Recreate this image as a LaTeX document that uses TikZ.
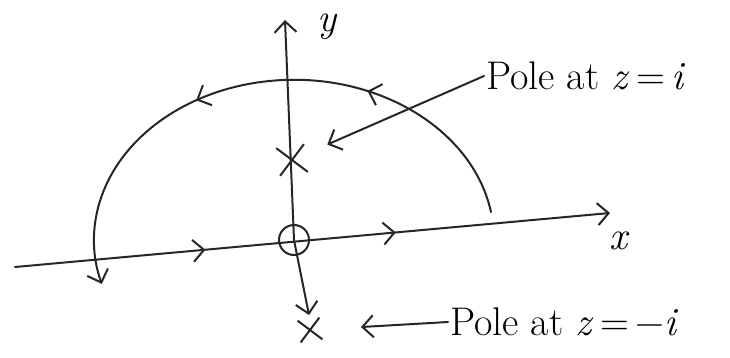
\documentclass[tikz,border=0pt]{standalone}
\usepackage{fontspec}
\usetikzlibrary{arrows.meta,shapes.misc,decorations.markings}
\begin{document}
\begin{tikzpicture}[x=1pt,y=1pt,
  line/.style={line width=2pt, black!85, line cap=round},
  tip/.style={-{Straight Barb[length=11pt,width=22pt]}},
  pole/.style={cross out, draw, black!85, line width=2pt, inner sep=0pt},
  lbl/.style={font=\fontsize{40}{42}\selectfont, inner sep=2pt}]
\useasboundingbox (0,0) rectangle (730,357);
% axes
\coordinate (L) at (15,90);
\coordinate (R) at (610,144);
\coordinate (T) at (285,337);
\coordinate (B) at (309,42);
\coordinate (O) at (294,117);
\draw[line, tip, postaction={decorate}, decoration={markings,
   mark=at position 0.32 with {\arrow{Straight Barb[length=11pt,width=22pt]}},
   mark=at position 0.64 with {\arrow{Straight Barb[length=11pt,width=22pt]}}}]
  (L) -- (R);
\draw[line, tip] (O) -- (T);
\draw[line, tip] (O) -- (B);
% small circle at origin
\node[circle, draw, line, minimum size=30pt] (origin) at (O) {};
% semicircular contour
\coordinate (A0) at (491,145);
\draw[line, tip, postaction={decorate}, decoration={markings,
   mark=at position 0.31 with {\arrow{Straight Barb[length=11pt,width=22pt]}},
   mark=at position 0.61 with {\arrow{Straight Barb[length=11pt,width=22pt]}}}]
  (A0) arc[start angle=10, end angle=196, x radius=200, y radius=160];
% poles
\node[pole, minimum size=26pt, rotate=8] (p1) at (292,197) {};
\node[pole, minimum size=20pt, rotate=8] (p2) at (310,27) {};
% labels
\node[lbl] (ylab) at (328,330) {\textit{y}};
\node[lbl] (xlab) at (620,116) {\textit{x}};
\node[lbl, anchor=west] (l1) at (484,281) {Pole at \textit{z}\,=\,\textit{i}};
\node[lbl, anchor=west] (l2) at (448,35) {Pole at \textit{z}\,=\,−\textit{i}};
\draw[line, tip, shorten >=24pt] (l1.west) -- (p1);
\draw[line, tip, shorten >=40pt] (l2.west) -- (p2);
\end{tikzpicture}
\end{document}
